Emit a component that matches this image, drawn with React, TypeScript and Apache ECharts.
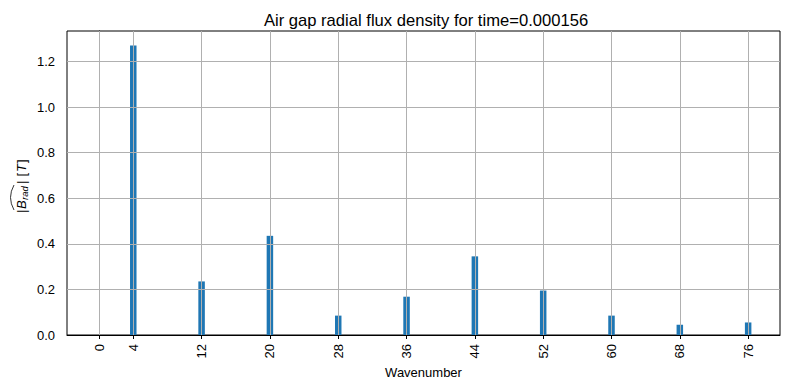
import React, { useEffect, useRef } from "react";
import * as echarts from "echarts";

const TITLE = "Air gap radial flux density for time=0.000156";
const X_NAME = "Wavenumber";
const wavenumbers = [4, 12, 20, 28, 36, 44, 52, 60, 68, 76];
const amplitudes = [1.27, 0.235, 0.435, 0.085, 0.168, 0.345, 0.195, 0.085, 0.045, 0.055];
const xTicks = [0, 4, 12, 20, 28, 36, 44, 52, 60, 68, 76];
const yTicks = [0.2, 0.4, 0.6, 0.8, 1.0, 1.2];

const FONT = "'Liberation Sans', Arial, sans-serif";
const FS = 13;

export default function App() {
  const ref = useRef<HTMLDivElement>(null);
  useEffect(() => {
    if (!ref.current) return;
    const chart = echarts.init(ref.current, null, { renderer: "svg" });
    const gridColor = "#b0b0b0";
    const markData: any[] = [
      ...xTicks.map((v) => ({ xAxis: v })),
      ...yTicks.map((v) => ({ yAxis: v })),
    ];
    const lblStyle = { fontFamily: FONT, fontSize: FS, fill: "#000" };
    chart.setOption({
      animation: false,
      backgroundColor: "#fff",
      textStyle: { fontFamily: FONT },
      title: {
        text: TITLE,
        left: 421,
        textAlign: "center",
        top: 7,
        textStyle: { fontSize: 16.6, fontWeight: "normal", color: "#000", fontFamily: FONT },
      },
      grid: {
        left: 67,
        right: 9,
        top: 31,
        bottom: 55,
        show: true,
        borderColor: "#000",
        borderWidth: 1,
        backgroundColor: "transparent",
      },
      xAxis: {
        type: "value",
        min: -3.76,
        max: 79.73,
        name: X_NAME,
        nameLocation: "middle",
        nameGap: 29,
        nameTextStyle: { fontSize: FS, color: "#000", fontFamily: FONT },
        axisLine: { show: true, lineStyle: { color: "#000", width: 1 } },
        axisTick: { show: true, length: 4, lineStyle: { color: "#000" }, customValues: xTicks },
        axisLabel: {
          customValues: xTicks,
          rotate: 90,
          margin: 9,
          fontSize: FS,
          color: "#000",
          fontFamily: FONT,
        },
        splitLine: { show: false },
      },
      yAxis: {
        type: "value",
        min: 0,
        max: 1.3335,
        interval: 0.2,
        axisLine: { show: true, lineStyle: { color: "#000", width: 1 } },
        axisTick: { show: true, length: 4, lineStyle: { color: "#000" } },
        axisLabel: {
          fontSize: FS,
          color: "#000",
          margin: 12,
          fontFamily: FONT,
          showMaxLabel: false,
          formatter: (v: number) => v.toFixed(1),
        },
        splitLine: { show: false },
      },
      series: [
        {
          type: "bar",
          data: wavenumbers.map((w, i) => [w, amplitudes[i]]),
          barWidth: 6.5,
          itemStyle: { color: "#1f77b4" },
          markLine: {
            silent: true,
            symbol: "none",
            label: { show: false },
            lineStyle: { color: gridColor, width: 1, type: "solid" },
            data: markData,
          },
        },
      ],
      graphic: [
        {
          type: "group",
          x: 21,
          y: 183,
          rotation: Math.PI / 2,
          children: [
            { type: "text", x: -30, y: 0, style: { ...lblStyle, text: "|", verticalAlign: "middle" } },
            { type: "text", x: -26, y: 0, style: { ...lblStyle, text: "B", fontStyle: "italic", verticalAlign: "middle" } },
            { type: "text", x: -17, y: 3.5, style: { ...lblStyle, fontSize: 9.5, text: "rad", fontStyle: "italic", verticalAlign: "middle" } },
            {
              type: "bezierCurve",
              shape: { x1: -27, y1: -7, x2: -2, y2: -7, cpx1: -14.5, cpy1: -14 },
              style: { stroke: "#000", lineWidth: 0.8, fill: "none" },
            },
            { type: "text", x: -1, y: 0, style: { ...lblStyle, text: "|", verticalAlign: "middle" } },
            { type: "text", x: 6.5, y: 0, style: { ...lblStyle, text: "[", verticalAlign: "middle" } },
            { type: "text", x: 11, y: 0, style: { ...lblStyle, text: "T", fontStyle: "italic", verticalAlign: "middle" } },
            { type: "text", x: 20, y: 0, style: { ...lblStyle, text: "]", verticalAlign: "middle" } },
          ],
        },
      ],
    });
    return () => chart.dispose();
  }, []);
  return <div ref={ref} style={{ position: "fixed", left: 0, top: 0, width: 789, height: 390 }} />;
}
